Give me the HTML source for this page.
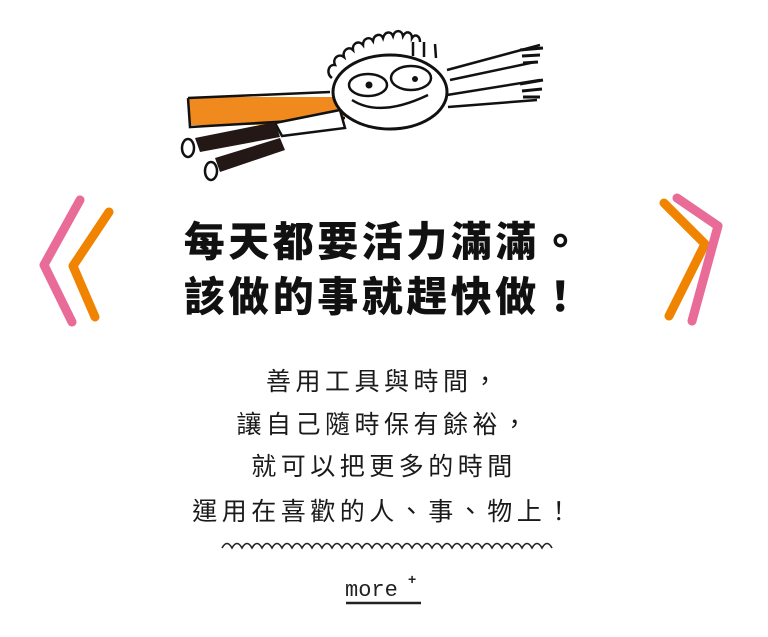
<!DOCTYPE html>
<html><head><meta charset="utf-8"><style>
html,body{margin:0;padding:0;background:#fff;}
body{width:768px;height:637px;position:relative;overflow:hidden;}
.t{position:absolute;left:0;width:768px;text-align:center;font-family:"Liberation Sans","Noto Sans CJK TC",sans-serif;font-weight:900;font-size:41px;letter-spacing:3.5px;color:#111;line-height:1;}
.b{position:absolute;left:0;width:768px;text-align:center;font-family:"Liberation Sans","Noto Sans CJK TC",sans-serif;font-weight:400;font-size:25px;letter-spacing:4.5px;color:#1a1a1a;line-height:1;}
svg{position:absolute;left:0;top:0;}
</style></head><body>
<svg width="768" height="637" viewBox="0 0 768 637">
 <g stroke-linecap="round" stroke-linejoin="round" fill="none">
  <polyline points="80,200 44,265 72,322" stroke="#e96b98" stroke-width="9"/>
  <polyline points="109,212 73,266 95,317" stroke="#f08300" stroke-width="9"/>
  <polyline points="664,203 705,244 669,316" stroke="#f08300" stroke-width="9"/>
  <polyline points="677,198 718,226 692,321" stroke="#e96b98" stroke-width="9"/>
 </g>
 <rect x="189" y="97" width="155" height="28" fill="#f08a1e"/>
 <path d="M188,98 L330,92 M188,98 L190,127 L345,118" stroke="#111" stroke-width="2.5" fill="none"/>
 <path d="M275,123 L340,110 L345,128 L282,136 Z" fill="#fff" stroke="#111" stroke-width="2.5"/>
 <path d="M195,138 L275,122 L280,137 L200,152 Z" fill="#231815"/>
 <path d="M215,158 L280,138 L285,150 L220,172 Z" fill="#231815"/>
 <ellipse cx="188" cy="148" rx="6" ry="9" fill="#fff" stroke="#111" stroke-width="2.5"/>
 <ellipse cx="211" cy="171" rx="6" ry="9" fill="#fff" stroke="#111" stroke-width="2.5"/>
 <path d="M447,70 L540,45 M450,80 L535,62 M447,95 L540,80 M448,107 L537,100" stroke="#111" stroke-width="2.5" fill="none"/>
 <path d="M520,50 L543,48 M522,56 L540,55 M523,63 L538,62 M520,84 L543,80 M522,91 L542,89 M523,97 L540,97" stroke="#111" stroke-width="3"/>
 <g stroke="#111" stroke-width="2.5" fill="none">
  <path d="M332,78 c-6,-4 -4,-14 3,-13 c-3,-7 4,-12 9,-8 c-2,-7 5,-11 9,-7 c-1,-7 6,-10 10,-5 c0,-7 7,-9 10,-4 c1,-7 8,-8 10,-3 c2,-7 8,-7 10,-2 c2,-7 9,-6 10,0 c3,-6 9,-4 9,2 c3,-5 8,-2 8,4"/>
  <path d="M413,42 l0,14 M424,42 l0,15 M435,44 l1,14"/>
 </g>
 <ellipse cx="390" cy="92" rx="57" ry="37" fill="#fff" stroke="#111" stroke-width="3"/>
 <ellipse cx="368" cy="85" rx="19" ry="11" fill="none" stroke="#111" stroke-width="2.5"/>
 <ellipse cx="411" cy="78" rx="20" ry="12" fill="none" stroke="#111" stroke-width="2.5"/>
 <circle cx="369" cy="85" r="3.5" fill="#111"/><circle cx="415" cy="79" r="3" fill="#111"/>
 <path d="M352,100 Q380,118 428,95" stroke="#111" stroke-width="2.5" fill="none"/>
 <path d="M222,548 q5,-9 10,0 q5,-9 10,0 q5,-9 10,0 q5,-9 10,0 q5,-9 10,0 q5,-9 10,0 q5,-9 10,0 q5,-9 10,0 q5,-9 10,0 q5,-9 10,0 q5,-9 10,0 q5,-9 10,0 q5,-9 10,0 q5,-9 10,0 q5,-9 10,0 q5,-9 10,0 q5,-9 10,0 q5,-9 10,0 q5,-9 10,0 q5,-9 10,0 q5,-9 10,0 q5,-9 10,0 q5,-9 10,0 q5,-9 10,0 q5,-9 10,0 q5,-9 10,0 q5,-9 10,0 q5,-9 10,0 q5,-9 10,0 q5,-9 10,0 q5,-9 10,0 q5,-9 10,0 q5,-9 10,0" stroke="#222" stroke-width="1.6" fill="none"/>
 <line x1="346" y1="603" x2="421" y2="603" stroke="#222" stroke-width="2.5"/>
 <text x="345" y="596" font-family="Liberation Mono,monospace" font-size="22" fill="#222">more</text>
 <text x="408" y="584" font-family="Liberation Sans,sans-serif" font-size="14" font-weight="bold" fill="#222">+</text>
</svg>
<div class="t" style="top:222px;">每天都要活力滿滿。</div>
<div class="t" style="top:277px;">該做的事就趕快做！</div>
<div class="b" style="top:370px;">善用工具與時間，</div>
<div class="b" style="top:413px;">讓自己隨時保有餘裕，</div>
<div class="b" style="top:455px;">就可以把更多的時間</div>
<div class="b" style="top:500px;">運用在喜歡的人、事、物上！</div>
</body></html>
